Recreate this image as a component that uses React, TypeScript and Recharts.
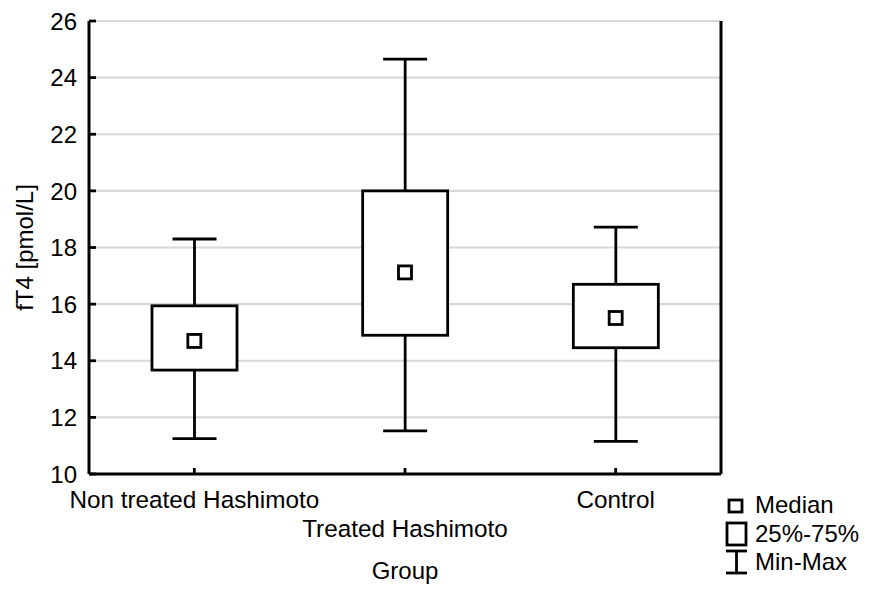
import { ComposedChart, Bar, Scatter, XAxis, YAxis, CartesianGrid, Label } from 'recharts'

const GROUPS = ['Non treated Hashimoto', 'Treated Hashimoto', 'Control']
const MIN_VALUES = [11.25, 11.52, 11.15]
const Q1_VALUES = [13.67, 14.9, 14.46]
const MEDIAN_VALUES = [14.7, 17.12, 15.51]
const Q3_VALUES = [15.94, 20.0, 16.7]
const MAX_VALUES = [18.3, 24.65, 18.72]
const Y_TICKS = [10, 12, 14, 16, 18, 20, 22, 24, 26]
const LEGEND_LABELS = ['Median', '25%-75%', 'Min-Max']

const FONT = '"Liberation Sans", Arial, sans-serif'
const LW = 2.8

const data = GROUPS.map((group, i) => ({
  group,
  range: [MIN_VALUES[i], MAX_VALUES[i]],
  min: MIN_VALUES[i],
  q1: Q1_VALUES[i],
  median: MEDIAN_VALUES[i],
  q3: Q3_VALUES[i],
  max: MAX_VALUES[i],
}))

const BoxShape = (props: any) => {
  const { x, y, width, height, payload } = props
  const top = Math.min(y, y + height)
  const h = Math.abs(height)
  const k = h / (payload.max - payload.min)
  const py = (v: number) => top + (payload.max - v) * k
  const cx = x + width / 2
  const cap = 22
  return (
    <g stroke="#000" strokeWidth={LW} fill="#fff">
      <line x1={cx} x2={cx} y1={py(payload.max)} y2={py(payload.q3)} />
      <line x1={cx} x2={cx} y1={py(payload.q1)} y2={py(payload.min)} />
      <line x1={cx - cap} x2={cx + cap} y1={py(payload.max)} y2={py(payload.max)} />
      <line x1={cx - cap} x2={cx + cap} y1={py(payload.min)} y2={py(payload.min)} />
      <rect x={x} y={py(payload.q3)} width={width} height={py(payload.q1) - py(payload.q3)} />
    </g>
  )
}

const MedianShape = (props: any) => {
  const { cx, cy } = props
  return <rect x={cx - 6.5} y={cy - 6.5} width={13} height={13} fill="#fff" stroke="#000" strokeWidth={LW} />
}

const LeftTick = ({ x, y, payload }: any) => (
  <g>
    <line x1={x} x2={x + 7} y1={y} y2={y} stroke="#000" strokeWidth={LW} />
    <text x={x - 12} y={y} dy="0.36em" textAnchor="end" fontSize={24} fontFamily={FONT} fill="#000">
      {payload.value}
    </text>
  </g>
)

const RightTick = ({ x, y }: any) => (
  <line x1={x - 7} x2={x} y1={y} y2={y} stroke="#000" strokeWidth={LW} />
)

const BottomTick = ({ x, y, payload, index }: any) => (
  <g>
    <line x1={x} x2={x} y1={y} y2={y - 6} stroke="#000" strokeWidth={LW} />
    <text x={x} y={y + (index === 1 ? 63 : 34)} textAnchor="middle" fontSize={24.3} fontFamily={FONT} fill="#000">
      {payload.value}
    </text>
  </g>
)

const TopTick = ({ x, y }: any) => (
  <line x1={x} x2={x} y1={y} y2={y + 6} stroke="#000" strokeWidth={LW} />
)

const YTitle = ({ viewBox }: any) => {
  const cy = viewBox.y + viewBox.height / 2
  return (
    <text x={24} y={cy} transform={`rotate(-90, 24, ${cy})`} dy="0.36em" textAnchor="middle" fontSize={24} fontFamily={FONT} fill="#000">
      fT4 [pmol/L]
    </text>
  )
}

const LegendBox = () => (
  <svg width={160} height={95} style={{ position: 'absolute', left: 720, top: 490 }}>
    <g stroke="#000" strokeWidth={LW} fill="#fff">
      <rect x={9} y={10} width={13} height={12} />
      <rect x={7} y={33} width={19} height={22} />
      <line x1={16.5} x2={16.5} y1={61} y2={83} />
      <line x1={6} x2={27} y1={61} y2={61} />
      <line x1={6} x2={27} y1={83} y2={83} />
    </g>
    {LEGEND_LABELS.map((t, i) => (
      <text key={t} x={35} y={23 + i * 28.5} fontSize={24} fontFamily={FONT} fill="#000">
        {t}
      </text>
    ))}
  </svg>
)

export default function App() {
  return (
    <div style={{ position: 'absolute', left: 0, top: 0, width: 884, height: 591, background: '#fff', fontFamily: FONT }}>
      <ComposedChart width={884} height={591} data={data} margin={{ top: 21, right: 162, bottom: 0, left: 0 }}>
        <CartesianGrid vertical={false} stroke="#d8d8d8" strokeWidth={2.2} />
        <XAxis
          dataKey="group"
          type="category"
          height={117}
          tickSize={0}
          tickMargin={0}
          tickLine={false}
          axisLine={{ stroke: '#000', strokeWidth: 3 }}
          tick={<BottomTick />}
          interval={0}
        >
          <Label value="Group" position="insideBottom" offset={12} fontSize={24} fontFamily={FONT} fill="#000" />
        </XAxis>
        <XAxis
          xAxisId="top"
          orientation="top"
          dataKey="group"
          type="category"
          height={0}
          tickSize={0}
          tickMargin={0}
          tickLine={false}
          axisLine={{ stroke: '#000', strokeWidth: 3 }}
          tick={<TopTick />}
          interval={0}
        />
        <YAxis
          domain={[10, 26]}
          ticks={Y_TICKS}
          type="number"
          width={89}
          tickSize={0}
          tickMargin={0}
          tickLine={false}
          axisLine={{ stroke: '#000', strokeWidth: 3 }}
          tick={<LeftTick />}
          interval={0}
        >
          <Label content={<YTitle />} />
        </YAxis>
        <YAxis
          yAxisId="right"
          orientation="right"
          domain={[10, 26]}
          ticks={Y_TICKS}
          type="number"
          width={1}
          tickSize={0}
          tickMargin={0}
          tickLine={false}
          axisLine={{ stroke: '#000', strokeWidth: 3 }}
          tick={<RightTick />}
          interval={0}
        />
        <Bar dataKey="range" barSize={85} shape={<BoxShape />} isAnimationActive={false} />
        <Scatter dataKey="median" shape={<MedianShape />} isAnimationActive={false} />
      </ComposedChart>
      <LegendBox />
    </div>
  )
}
